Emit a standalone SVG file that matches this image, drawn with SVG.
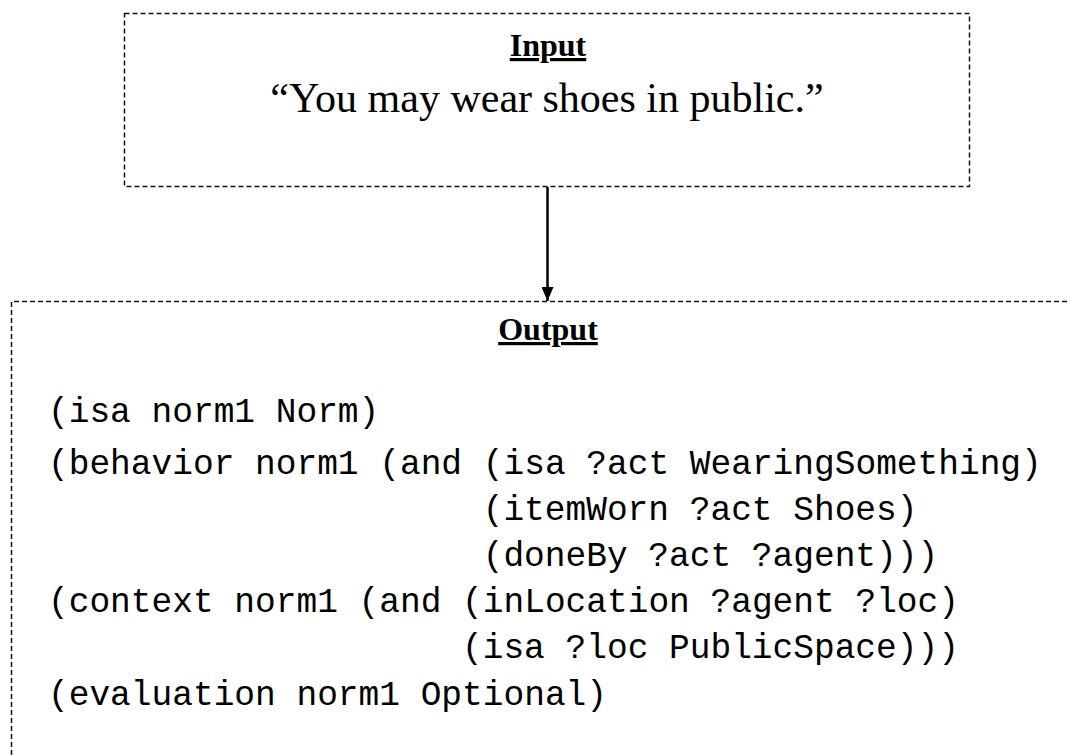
<svg xmlns="http://www.w3.org/2000/svg" width="1070" height="755" viewBox="0 0 1070 755">
  <style>
    .frame { fill: none; stroke: #111; stroke-width: 1.5; stroke-dasharray: 5 3; }
    .title { font-family: "Liberation Serif", "Times New Roman", serif; font-size: 32px; font-weight: bold; text-decoration: underline; fill: #000; }
    .quote { font-family: "Liberation Serif", "Times New Roman", serif; font-size: 42px; fill: #000; }
    .code { font-family: "Liberation Mono", "Courier New", monospace; font-size: 34.5px; fill: #000; }
    .conn { stroke: #000; stroke-width: 2.5; fill: none; }
  </style>
  <defs>
    <marker id="arrowhead" viewBox="0 0 14 12" refX="14" refY="6" markerWidth="14" markerHeight="12" markerUnits="userSpaceOnUse" orient="auto">
      <path d="M0,0 L14,6 L0,12 Z" fill="#000"/>
    </marker>
  </defs>
  <rect width="1070" height="755" fill="#fff"/>

  <g id="input">
    <rect class="frame" x="124.5" y="13.5" width="845" height="173"/>
    <text class="title" x="548" y="56" text-anchor="middle">Input</text>
    <text class="quote" x="547" y="112" text-anchor="middle">“You may wear shoes in public.”</text>
  </g>

  <g id="output">
    <path class="frame" d="M1075,301.5 H11.5 V760"/>
    <text class="title" x="548" y="340" text-anchor="middle">Output</text>
    <g class="code">
      <!-- columns: 20.7px per character, nested clauses hang under the first "(" after "(and" -->
      <text x="48" y="422">(isa norm1 Norm)</text>
      <text x="48" y="474">(behavior norm1 (and (isa ?act WearingSomething)</text>
      <text x="482.7" y="520">(itemWorn ?act Shoes)</text>
      <text x="482.7" y="566">(doneBy ?act ?agent)))</text>
      <text x="48" y="612">(context norm1 (and (inLocation ?agent ?loc)</text>
      <text x="462" y="658">(isa ?loc PublicSpace)))</text>
      <text x="48" y="705">(evaluation norm1 Optional)</text>
    </g>
  </g>

  <g id="connectors">
    <line class="conn" x1="547.5" y1="187" x2="547.5" y2="301" marker-end="url(#arrowhead)"/>
  </g>
</svg>
